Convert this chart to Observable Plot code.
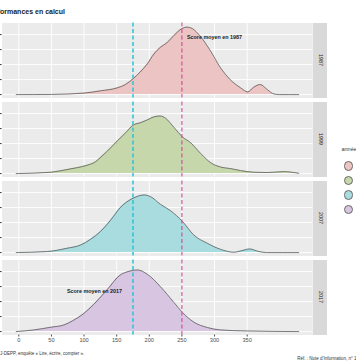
<!DOCTYPE html>
<html><head><meta charset="utf-8">
<script src="https://cdn.jsdelivr.net/npm/d3@7"></script>
<script src="https://cdn.jsdelivr.net/npm/@observablehq/plot@0.6"></script>
<style>
html,body{margin:0;padding:0;background:#fff;}
#wrap{position:relative;width:356px;height:364px;overflow:hidden;font-family:"Liberation Sans",Arial,sans-serif;}
#wrap svg{position:absolute;left:0;top:0;}
.abs{position:absolute;white-space:nowrap;line-height:1;}
.strip{position:absolute;background:#D9D9D9;}
.strip span{position:absolute;left:50%;top:50%;transform:translate(-50%,-50%) rotate(90deg);font-size:5.3px;color:#1A1A1A;line-height:1;}
.key{position:absolute;border-radius:50%;box-sizing:border-box;border:0.6px solid #6a6a6a;}
</style></head><body><div id="wrap"></div>
<script>
// ---- data ----
const years = ["1987", "1999", "2007", "2017"];
const yearColors = ["#EBC4C3", "#C7D7AC", "#A9DCDF", "#D8C5E1"];

const scores1987 = [-4, 50, 100, 125, 151, 163, 175, 186, 197, 207, 217, 227, 238, 250, 258, 266, 278, 294, 309, 324, 340, 351, 360, 370, 381, 391, 400, 429];
const dens1987   = [0, 0.00002, 0.0002, 0.0005, 0.0009, 0.00132, 0.0021, 0.0030, 0.0041, 0.0054, 0.0063, 0.0069, 0.0079, 0.0088, 0.0090, 0.0088, 0.0078, 0.0058, 0.0036, 0.0020, 0.0009, 0.00036, 0.00098, 0.00134, 0.00066, 0.00008, 0, 0];

const scores1999 = [-4, 49, 74, 90, 105, 118, 125, 136, 151, 164, 175, 187, 197, 207, 217, 225, 238, 251, 263, 279, 294, 309, 325, 340, 360, 381, 406, 429];
const dens1999   = [0, 0.00018, 0.00054, 0.0008, 0.00112, 0.0016, 0.00214, 0.00302, 0.00436, 0.00546, 0.00644, 0.0068, 0.00716, 0.00756, 0.00768, 0.00738, 0.00614, 0.00488, 0.00414, 0.00266, 0.00146, 0.00088, 0.00066, 0.0004, 0.00018, 0.00014, 0.00026, 0.00004];

const scores2007 = [-4, 44, 74, 95, 110, 125, 141, 156, 175, 192, 202, 217, 233, 251, 268, 289, 309, 330, 340, 354, 368, 380, 429];
const dens2007   = [0, 0.00014, 0.00058, 0.00102, 0.00178, 0.0028, 0.00436, 0.00604, 0.00724, 0.00768, 0.00746, 0.00644, 0.00556, 0.00414, 0.00236, 0.00124, 0.00044, 0.00004, 0.00022, 0.00048, 0.00014, 0, 0];

const scores2017 = [-4, 23, 49, 69, 82, 100, 115, 136, 155, 166, 182, 197, 217, 238, 251, 268, 289, 309, 350, 429];
const dens2017   = [0, 0.00022, 0.00058, 0.00088, 0.00142, 0.00244, 0.00364, 0.00564, 0.00752, 0.00796, 0.00822, 0.00764, 0.006, 0.00386, 0.00254, 0.00128, 0.00054, 0.00022, 0.00008, 0];

const meanScores = [175, 250];
const meanColors = ["#2EC2D6", "#CE479B"];

const annotYears  = ["1987", "2017"];
const annotScores = [300, 116];
const annotDens   = [0.0076, 0.0054];
const annotLabels = ["Score moyen en 1987", "Score moyen en 2017"];

const xTicks = [0, 50, 100, 150, 200, 250, 300, 350];
const yTicks = [0, 0.002, 0.004, 0.006, 0.008];

// ---- layout ----
const W = 356, marginTop = 22.5, step = 79, panelH = 75, nPanels = years.length;
const facetH = step * nPanels - (step - panelH);
const marginBottom = 13.5;
const H = marginTop + facetH + marginBottom;

const scoresByYear = [scores1987, scores1999, scores2007, scores2017];
const densByYear = [dens1987, dens1999, dens2007, dens2017];
const rows = [];
years.forEach((yr, i) => scoresByYear[i].forEach((s, j) => rows.push({year: yr, score: s, density: densByYear[i][j]})));
const annots = annotYears.map((yr, i) => ({year: yr, score: annotScores[i], density: annotDens[i], label: annotLabels[i]}));

const chart = Plot.plot({
  width: W, height: H,
  marginLeft: 1.6, marginRight: 43.7, marginTop, marginBottom,
  style: {fontFamily: "'Liberation Sans', Arial, sans-serif", fontSize: "5.6px", background: "transparent", overflow: "visible"},
  x: {domain: [-25.6, 450.6]},
  y: {domain: [-0.000455, 0.009545]},
  fy: {domain: years, paddingInner: (step - panelH) / step, paddingOuter: 0, round: false, axis: null},
  color: {domain: years, range: yearColors},
  marks: [
    Plot.frame({fill: "#EBEBEB"}),
    Plot.gridX({ticks: xTicks, stroke: "#fff", strokeOpacity: 1, strokeWidth: 0.9}),
    Plot.gridY({ticks: yTicks, stroke: "#fff", strokeOpacity: 1, strokeWidth: 0.9}),
    Plot.areaY(rows, {x: "score", y: "density", fy: "year", fill: "year", curve: "monotone-x"}),
    Plot.lineY(rows, {x: "score", y: "density", fy: "year", stroke: "#5c5c5c", strokeWidth: 0.8, curve: "monotone-x"}),
    Plot.ruleX([meanScores[0]], {stroke: meanColors[0], strokeWidth: 1.5, strokeDasharray: "4,2.5"}),
    Plot.ruleX([meanScores[1]], {stroke: meanColors[1], strokeWidth: 1.1, strokeDasharray: "4,2.5"}),
    Plot.text(annots, {x: "score", y: "density", fy: "year", text: "label", fontWeight: "bold", fontSize: 5.4, fill: "#222"}),
    Plot.axisX({ticks: xTicks, tickSize: 2, tickPadding: 1.5, label: null, color: "#4D4D4D", tickFormat: d => String(d)}),
    Plot.axisY({ticks: yTicks, tickSize: 2, label: null, color: "#333", tickFormat: () => ""})
  ]
});

const wrap = document.getElementById("wrap");
wrap.appendChild(chart);

function addDiv(html, cls, css) {
  const d = document.createElement("div");
  d.className = cls;
  d.innerHTML = html;
  Object.assign(d.style, css);
  wrap.appendChild(d);
  return d;
}

// title (left part cropped in the reference)
addDiv('<span style="position:absolute;right:100%">Perf</span>ormances en calcul', "abs",
  {left: "0px", top: "7.5px", fontSize: "7px", fontWeight: "bold", color: "#222"});

// strips
years.forEach((yr, i) => {
  addDiv("<span>" + yr + "</span>", "strip",
    {left: "313px", top: (marginTop + i * step) + "px", width: "14.3px", height: panelH + "px"});
});

// legend
addDiv("année", "abs", {left: "341.5px", top: "147px", fontSize: "5.5px", color: "#333"});
const keyY = [166, 180.5, 195, 209.5];
years.forEach((yr, i) => {
  addDiv("", "key", {left: (348.5 - 4.6) + "px", top: (keyY[i] - 4.6) + "px", width: "9.2px", height: "9.2px", background: yearColors[i]});
});

// caption and reference
addDiv('<span style="position:absolute;right:100%">Source : MEN</span>J-DEPP, enquête « Lire, écrire, compter ».', "abs",
  {left: "0px", top: "351.5px", fontSize: "4.5px", color: "#333"});
addDiv("Réf. : Note d'Information, n° 19.08.", "abs",
  {left: "297.3px", top: "357px", fontSize: "4.5px", color: "#333"});
</script></body></html>
